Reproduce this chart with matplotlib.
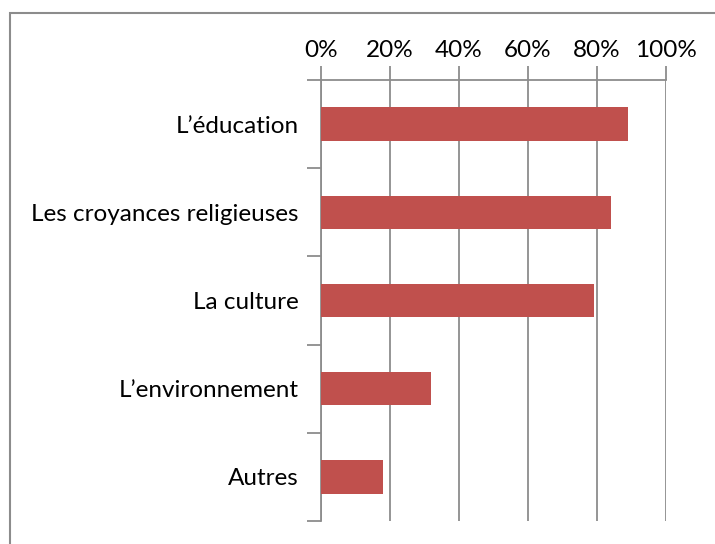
import matplotlib.pyplot as plt
from matplotlib.patches import Rectangle
import numpy as np

categories = ["L\u2019éducation", "Les croyances religieuses", "La culture",
              "L\u2019environnement", "Autres"]
values = [0.89, 0.84, 0.79, 0.32, 0.18]
xticks = [0, 0.2, 0.4, 0.6, 0.8, 1.0]
xtick_labels = ["0%", "20%", "40%", "60%", "80%", "100%"]

plt.rcParams['font.family'] = ['Lato', 'DejaVu Sans']

fig = plt.figure(figsize=(7.15, 5.44), dpi=100)
ax = fig.add_axes([321 / 715, 1 - 521 / 544, 345 / 715, 441 / 544])

grey = '#8c8c8c'
y = np.arange(len(categories))
ax.barh(y, values, height=0.38, color='#c0504d', zorder=3)

ax.set_xlim(0, 1)
ax.set_ylim(len(categories) - 0.5, -0.5)
ax.set_xticks(xticks)
ax.set_xticklabels(xtick_labels, fontsize=17.5)
ax.xaxis.tick_top()
ax.tick_params(axis='x', length=10, width=1.3, color=grey, pad=4)

ax.set_yticks(y)
ax.set_yticklabels(categories, fontsize=17.5)
ax.set_yticks(np.arange(-0.5, len(categories)), minor=True)
ax.tick_params(axis='y', which='major', length=0, pad=16)
ax.tick_params(axis='y', which='minor', length=10, width=1.3, color=grey)

ax.grid(axis='x', color=grey, linewidth=1.3, zorder=0)
for s in ['right', 'bottom']:
    ax.spines[s].set_visible(False)
for s in ['left', 'top']:
    ax.spines[s].set_color(grey)
    ax.spines[s].set_linewidth(1.3)

# outer chart border
fig.patches.append(Rectangle((10 / 715, -0.5), 1.2, 1.5 - 13 / 544,
                             transform=fig.transFigure, fill=False,
                             edgecolor='#8c8c8c', linewidth=1.5))

fig.savefig('out.png', dpi=100)
